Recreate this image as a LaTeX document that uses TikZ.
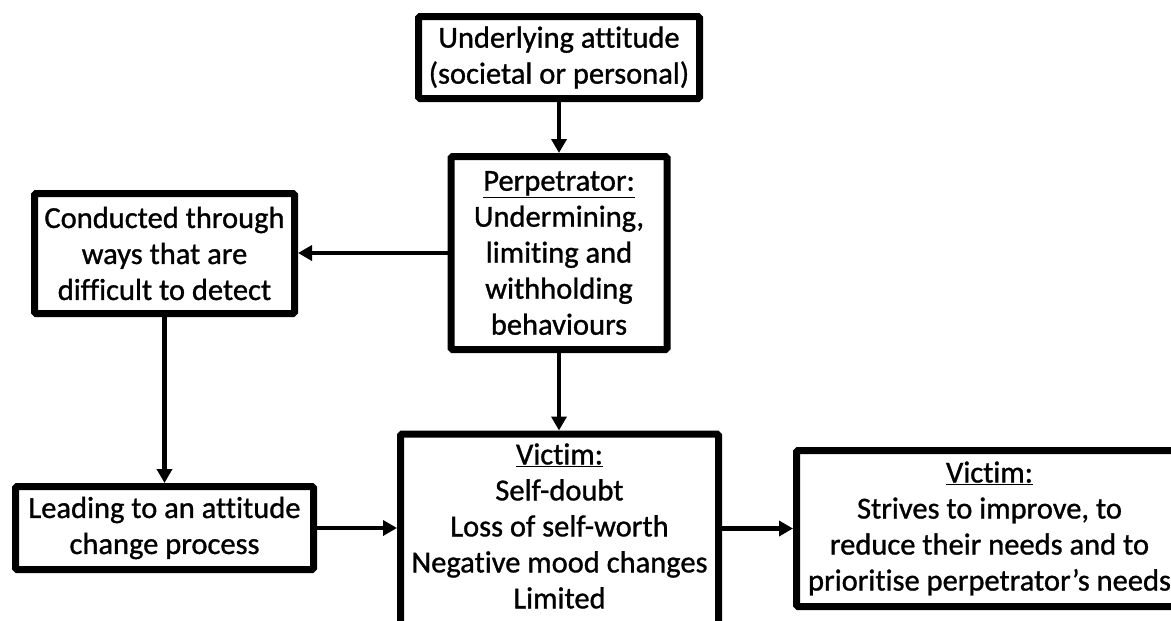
\documentclass[tikz,border=0pt]{standalone}
\usepackage{fontspec}
\setmainfont{Carlito}[Ligatures={NoCommon,NoContextual},FakeBold=1.0]
\usetikzlibrary{arrows.meta}
\begin{document}
\begin{tikzpicture}[x=1pt,y=-1pt,
  box/.style={draw=black, line width=7pt, rounded corners=1.5pt, fill=white,
    align=center, inner sep=0pt,
    font=\fontsize{30.5}{36}\selectfont},
  txt/.style={align=center, inner sep=0pt, font=\fontsize{30.5}{36}\selectfont},
  arr/.style={line width=4.8pt, -{Triangle[length=14pt,width=15pt]}}]
\clip (0,0) rectangle (1171,621);
\fill[white] (0,0) rectangle (1171,621);

% boxes
\node[box, minimum width=281pt, minimum height=82pt] (att) at (559,57.5)
  {Underlying attitude\\(societal or personal)};
\node[box, minimum width=216pt, minimum height=193pt] (perp) at (559,253)
  {\underline{Perpetrator:}\\Undermining,\\limiting and\\withholding\\behaviours};
\node[box, minimum width=260pt, minimum height=120pt] (cond) at (164.5,253.5)
  {Conducted through\\ways that are\\difficult to detect};
\node[box, minimum width=298pt, minimum height=83pt] (lead) at (164.5,528)
  {Leading to an attitude\\change process};
\node[box, minimum width=318pt, minimum height=300pt, anchor=north] (vic) at (559.5,430.5) {};
\node[txt] (victxt) at (559.5,526)
  {\underline{Victim:}\\Self-doubt\\Loss of self-worth\\Negative mood changes\\Limited};
\node[box, minimum width=386pt, minimum height=156pt] (vic2) at (989.5,528.5)
  {\underline{Victim:}\\Strives to improve, to\\reduce their needs and to\\prioritise perpetrator’s needs};

% connectors
\draw[arr] (att.south) -- (perp.north);
\draw[arr] (perp.west) -- (perp.west -| cond.east);
\draw[arr] (cond.south) -- (lead.north);
\draw[arr] (perp.south) -- (perp.south |- vic.north);
\draw[arr] (lead.east) -- (lead.east -| vic.west);
\draw[arr] (vic.east |- vic2.west) -- (vic2.west);
\end{tikzpicture}
\end{document}
